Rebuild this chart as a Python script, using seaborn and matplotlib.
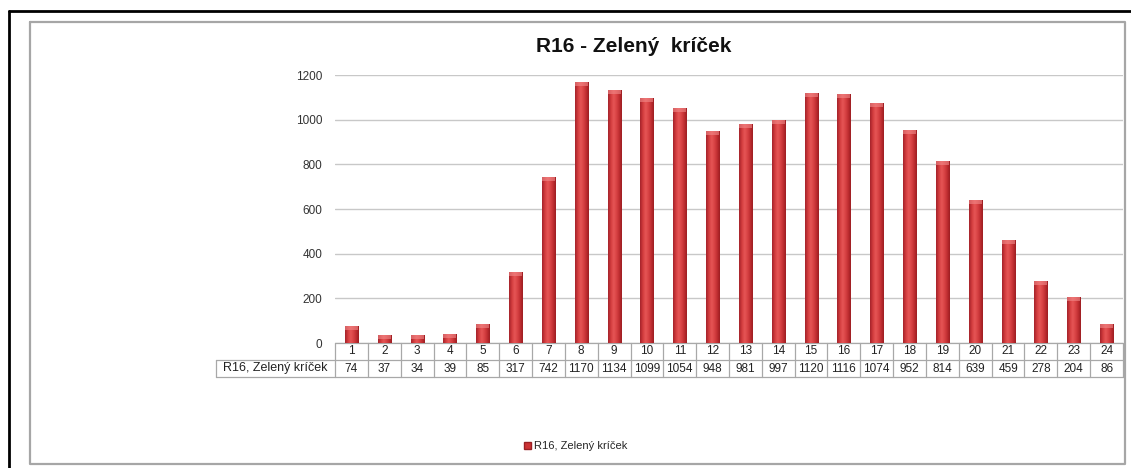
import numpy as np
import pandas as pd
import matplotlib
matplotlib.use("Agg")
import matplotlib.pyplot as plt
import matplotlib.transforms as mtransforms
from matplotlib.colors import LinearSegmentedColormap
from matplotlib.patches import Patch
from matplotlib.lines import Line2D
import seaborn as sns

# ---- data ----
title = "R16 - Zelený  kríček"
series_name = "R16, Zelený kríček"
hours = [str(h) for h in range(1, 25)]
values = [74, 37, 34, 39, 85, 317, 742, 1170, 1134, 1099, 1054, 948,
          981, 997, 1120, 1116, 1074, 952, 814, 639, 459, 278, 204, 86]
yticks = [0, 200, 400, 600, 800, 1000, 1200]

sns.set_theme(style="white")
plt.rcParams["font.family"] = ["Liberation Sans", "DejaVu Sans"]

W, H = 1131, 468
fig = plt.figure(figsize=(W / 100, H / 100), dpi=100)
fig.patch.set_facecolor("white")

ax_l, ax_r, ax_t, ax_b = 335, 1123, 75, 343
ax = fig.add_axes([ax_l / W, (H - ax_b) / H, (ax_r - ax_l) / W, (ax_b - ax_t) / H])

bar_color = "#cc3335"
df = pd.DataFrame({"hour": hours, "value": values})
sns.barplot(data=df, x="hour", y="value", ax=ax, color=bar_color,
            saturation=1, width=0.4, edgecolor="#9a2024", linewidth=0.5, zorder=3)

ax.set_xlim(-0.5, 23.5)
ax.set_ylim(0, 1200)
ax.set_yticks(yticks)
ax.set_yticklabels([str(v) for v in yticks], fontsize=8.5, color="#333333")
ax.tick_params(axis="y", length=0, pad=9)
ax.set_xticks([])
ax.set_xlabel("")
ax.set_ylabel("")
ax.grid(axis="y", color="#c8c8c8", linewidth=1.0, zorder=0)
for s in ax.spines.values():
    s.set_visible(False)

# cylinder-like shading on each bar
cmap = LinearSegmentedColormap.from_list(
    "cyl", ["#a3222a", "#d23b3d", "#e65656", "#d94446", "#c12f32", "#9c1d22"])
grad = np.linspace(0, 1, 64).reshape(1, -1)
ypp = 1200 / (ax_b - ax_t)  # data units per pixel
for p in list(ax.patches):
    x0, w, h = p.get_x(), p.get_width(), p.get_height()
    im = ax.imshow(grad, cmap=cmap, extent=[x0, x0 + w, 0, h], aspect="auto",
                   zorder=4, interpolation="bicubic")
    im.set_clip_path(p)
    cap = min(h, 4 * ypp)
    ax.add_patch(plt.Rectangle((x0, h - cap), w, cap, facecolor="#f28a8a",
                               edgecolor="none", alpha=0.6, zorder=5))
ax.set_xlim(-0.5, 23.5)
ax.set_ylim(0, 1200)

# ---- data table below the axes ----
trans = mtransforms.blended_transform_factory(ax.transData, ax.transAxes)
px = 1.0 / (ax_b - ax_t)
rh = 17 * px
colw = (ax_r - ax_l) / 24.0
label_left = -0.5 - 119 / colw
lc = "#a8a8a8"
lw = 0.9

def hline(x0, x1, y):
    ax.add_line(Line2D([x0, x1], [y, y], transform=trans, color=lc, lw=lw, clip_on=False))

def vline(x, y0, y1):
    ax.add_line(Line2D([x, x], [y0, y1], transform=trans, color=lc, lw=lw, clip_on=False))

hline(-0.5, 23.5, 0)
hline(label_left, 23.5, -rh)
hline(label_left, 23.5, -2 * rh)
for i in range(25):
    vline(i - 0.5, 0, -2 * rh)
vline(label_left, -rh, -2 * rh)

for i, (hh, v) in enumerate(zip(hours, values)):
    ax.text(i, -0.5 * rh, hh, transform=trans, ha="center", va="center",
            fontsize=8.5, color="#222222", clip_on=False)
    ax.text(i, -1.5 * rh, str(v), transform=trans, ha="center", va="center",
            fontsize=8.5, color="#222222", clip_on=False)
ax.text((label_left - 0.5) / 2, -1.5 * rh, series_name, transform=trans,
        ha="center", va="center", fontsize=9, color="#222222", clip_on=False)

# ---- title ----
fig.text(634 / W, 1 - 46 / H, title, ha="center", va="center",
         fontsize=15, fontweight="bold", color="#111111")

# ---- legend ----
fig.legend(handles=[Patch(facecolor=bar_color, edgecolor="#9a2024")],
           labels=[series_name], loc="center",
           bbox_to_anchor=(576 / W, 1 - 446 / H), frameon=False,
           fontsize=8, handlelength=0.6, handleheight=0.6,
           handletextpad=0.3)

# ---- frames ----
def fline(xs, ys, color, lw):
    fig.add_artist(Line2D([x / W for x in xs], [1 - y / H for y in ys],
                          color=color, lw=lw, transform=fig.transFigure))

fline([9, 9], [11, 468], "#000000", 2.0)
fline([9, 1131], [11, 11], "#000000", 2.0)
fline([30, 1125, 1125, 30, 30], [22, 22, 464, 464, 22], "#a6a6a6", 1.6)

fig.savefig("out.png", dpi=100)
